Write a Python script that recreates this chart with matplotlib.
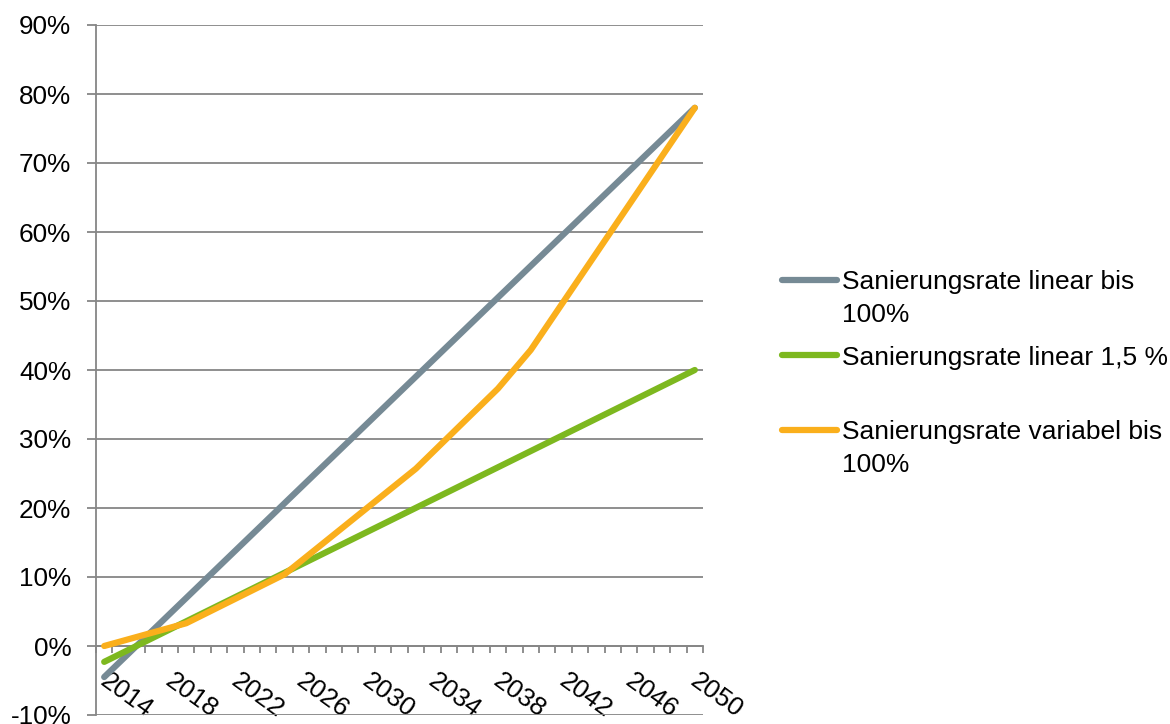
import matplotlib
matplotlib.use("Agg")
import matplotlib.pyplot as plt
from matplotlib.lines import Line2D
from matplotlib.ticker import FuncFormatter
from matplotlib.transforms import ScaledTranslation

plt.rcParams['font.family'] = ['Liberation Sans', 'DejaVu Sans']

# --- data -------------------------------------------------------------
series_names = [
    "Sanierungsrate linear bis\n100%",
    "Sanierungsrate linear 1,5 %",
    "Sanierungsrate variabel bis\n100%",
]
series_colors = ["#768A95", "#7DB81F", "#FAAF1C"]

linear_full_years = [2014, 2050]
linear_full = [-4.5, 78.0]

linear_15_years = [2014, 2050]
linear_15 = [-2.3, 40.0]

variable_years = [2014, 2019, 2025, 2033, 2038, 2040, 2050]
variable_full = [0.0, 3.3, 10.4, 25.7, 37.3, 42.9, 78.0]

first_year, last_year = 2014, 2050
label_years = list(range(2014, 2051, 4))
y_ticks = list(range(-10, 91, 10))

# --- figure -----------------------------------------------------------
W, H, DPI = 1170, 724, 100
fig = plt.figure(figsize=(W / DPI, H / DPI), dpi=DPI)
ax = fig.add_axes([96 / W, (H - 715) / H, 607 / W, 690 / H])

GRID = "#868686"
LW = 4.5

series = [
    (linear_full_years, linear_full),
    (linear_15_years, linear_15),
    (variable_years, variable_full),
]
for (xs, ys), color in zip(series, series_colors):
    ax.plot(xs, ys, color=color, lw=LW, solid_capstyle="round",
            solid_joinstyle="round", zorder=3)

ax.set_xlim(first_year - 0.5, last_year + 0.5)
ax.set_ylim(y_ticks[0], y_ticks[-1])

# y axis
ax.set_yticks(y_ticks)
ax.yaxis.set_major_formatter(FuncFormatter(lambda v, _: f"{v:.0f}%"))
ax.yaxis.grid(True, color=GRID, lw=1.3)
ax.set_axisbelow(True)
ax.tick_params(axis="y", length=6.3, width=1.3, color=GRID, pad=11.5,
               labelsize=18.8, labelcolor="black")

# spines
for side in ("top", "right"):
    ax.spines[side].set_visible(False)
ax.spines["left"].set_color(GRID)
ax.spines["left"].set_linewidth(1.3)
ax.spines["bottom"].set_position(("data", 0))
ax.spines["bottom"].set_color(GRID)
ax.spines["bottom"].set_linewidth(1.3)

# x axis: category boundaries as minor ticks, every 4th year labelled
ax.set_xticks([y - 0.5 for y in range(first_year, last_year + 2)], minor=True)
ax.set_xticks(label_years, [str(y) for y in label_years])
ax.tick_params(axis="x", which="minor", length=5, width=1.3, color=GRID,
               direction="out")
ax.tick_params(axis="x", which="major", length=0, pad=27.4, labelsize=18.8,
               labelcolor="black")
shift = ScaledTranslation(-6 / DPI, 0, fig.dpi_scale_trans)
for lab in ax.get_xticklabels():
    lab.set_rotation(-36)
    lab.set_ha("left")
    lab.set_va("baseline")
    lab.set_rotation_mode("anchor")
    lab.set_transform(lab.get_transform() + shift)

# legend
legend_rows = [280, 355, 430]
for name, color, yrow in zip(series_names, series_colors, legend_rows):
    fig.add_artist(Line2D([782 / W, 837 / W], [1 - yrow / H, 1 - yrow / H],
                          color=color, lw=LW, solid_capstyle="round",
                          transform=fig.transFigure))
    for i, line in enumerate(name.split("\n")):
        base = yrow + 9.5 + 32 * i
        fig.text(842 / W, 1 - base / H, line, fontsize=19, color="black",
                 ha="left", va="baseline")

fig.savefig("out.png", dpi=DPI)
